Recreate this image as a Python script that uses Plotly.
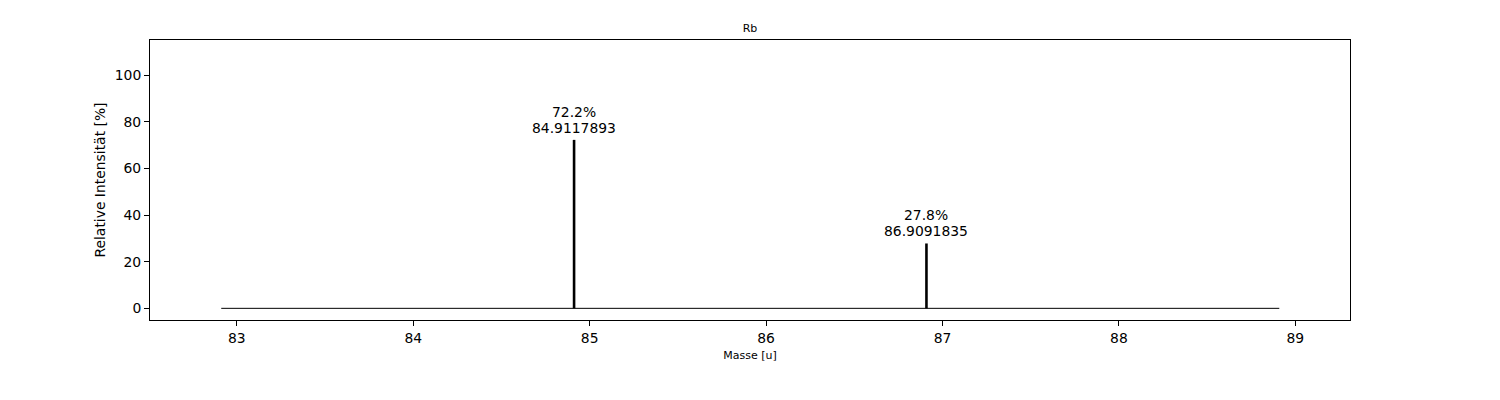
import plotly.graph_objects as go

element = "Rb"
masses = [84.9117893, 86.9091835]
abundances = [72.2, 27.8]
x_ticks = [83, 84, 85, 86, 87, 88, 89]
y_ticks = [0, 20, 40, 60, 80, 100]

FONT = "DejaVu Sans"
# the HTML body has an 8px default margin; compensate so the plot lands
# at the same page position as the reference
OFF = 8
W, H = 1500 - OFF, 400 - OFF

fig = go.Figure()

# baseline from min-2 to max+2
fig.add_trace(go.Scatter(
    x=[min(masses) - 2, max(masses) + 2], y=[0, 0],
    mode="lines", line=dict(color="black", width=1),
    showlegend=False, hoverinfo="skip"))

# stick spectrum
sx, sy = [], []
for m, a in zip(masses, abundances):
    sx += [m, m, None]
    sy += [0, a, None]
fig.add_trace(go.Scatter(
    x=sx, y=sy, mode="lines", line=dict(color="black", width=2.6),
    showlegend=False, hoverinfo="skip"))

for m, a in zip(masses, abundances):
    fig.add_annotation(x=m, y=a, text=f"{a}%", showarrow=False,
                       yanchor="middle", yshift=28,
                       font=dict(family=FONT, size=13.9, color="black"))
    fig.add_annotation(x=m, y=a, text=f"{m}", showarrow=False,
                       yanchor="middle", yshift=12,
                       font=dict(family=FONT, size=13.9, color="black"))

axis_common = dict(
    showline=True, linecolor="black", linewidth=1, mirror=True,
    ticks="outside", ticklen=5, tickwidth=1, tickcolor="black",
    showgrid=False, zeroline=False,
    tickfont=dict(family=FONT, size=13.9, color="black"),
)

fig.update_xaxes(range=[82.508, 89.31], tickvals=x_ticks,
                 title=dict(text="Masse [u]", font=dict(family=FONT, size=11, color="black"),
                            standoff=6),
                 **axis_common)
fig.update_yaxes(range=[-5, 115], tickvals=y_ticks,
                 title=dict(text="Relative Intensität [%]",
                            font=dict(family=FONT, size=13.9, color="black"),
                            standoff=5),
                 **axis_common)

fig.update_layout(
    width=W, height=H,
    margin=dict(l=150 - OFF, r=150, t=40 - OFF, b=80, autoexpand=False),
    plot_bgcolor="white", paper_bgcolor="white",
    title=dict(text=element, x=0.5, xanchor="center", xref="paper",
               y=1 - (28 - OFF) / H, yref="container", yanchor="middle",
               font=dict(family=FONT, size=11, color="black")),
    font=dict(family=FONT, color="black"),
)

fig.write_html("out.html")
